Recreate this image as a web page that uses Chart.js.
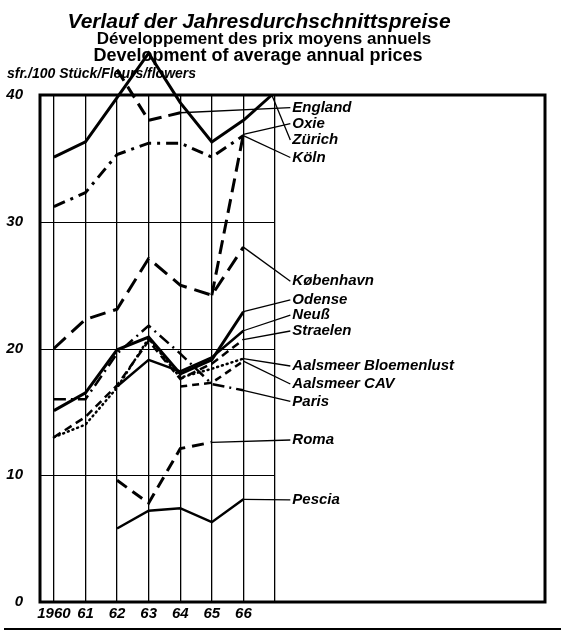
<!DOCTYPE html>
<html lang="de">
<head>
<meta charset="utf-8">
<title>Verlauf der Jahresdurchschnittspreise</title>
<script src="https://cdn.jsdelivr.net/npm/chart.js@4.4.1/dist/chart.umd.min.js"></script>
<style>
    html, body { margin: 0; padding: 0; background: #fff; }
    #chart-wrap { width: 571px; height: 634px; }
</style>
</head>
<body>
<div id="chart-wrap"><canvas id="price-chart" width="571" height="634"></canvas></div>
<script>
// Years on the x axis (the grid has one extra, unlabelled line for 1967)
const years = [1960, 1961, 1962, 1963, 1964, 1965, 1966];
const gridYears = [1960, 1961, 1962, 1963, 1964, 1965, 1966, 1967];
const yTicks = [0, 10, 20, 30, 40];

// Average annual prices, sfr. per 100 flowers
const england     = [null, null, 42.0, 38.0, 38.6, null, null];
const oxie        = [null, null, null, null, null, 24.2, 36.9];
const zuerich     = [35.1, 36.3, 39.8, 43.3, 39.4, 36.3, 38.0];
const koeln       = [31.2, 32.3, 35.3, 36.2, 36.2, 35.1, 36.8];
const kobenhavn   = [20.0, 22.3, 23.1, 27.1, 25.0, 24.2, 28.0];
const odense      = [15.1, 16.5, 19.9, 20.9, 18.0, 19.1, 22.9];
const neuss       = [null, null, 17.0, 19.1, 18.2, 19.3, 21.4];
const straelen    = [13.0, 14.6, 17.1, 20.6, 17.6, 18.8, 20.7];
const bloemenlust = [13.0, 14.0, 16.9, 20.8, 17.7, 18.4, 19.2];
const cav         = [null, null, null, null, 17.0, 17.3, 19.0];
const paris       = [16.0, 16.0, 19.6, 21.8, 19.6, 17.2, 16.7];
const rome        = [null, null, 9.6, 7.8, 12.1, 12.6, null];
const pescia      = [null, null, 5.8, 7.2, 7.4, 6.3, 8.1];

const seriesNames = [
    'England', 'Oxie', 'Zürich', 'Köln', 'København', 'Odense', 'Neuß', 'Straelen',
    'Aalsmeer Bloemenlust', 'Aalsmeer CAV', 'Paris', 'Roma', 'Pescia'
];

class PriceChart {
    constructor() {
        this.canvas = document.getElementById('price-chart');
        this.chart = null;

        // where the name labels sit, in axis units
        this.labelYear = 1967.55;
        this.labelLevels = [39.0, 37.75, 36.45, 35.07, 25.3, 23.83, 22.64, 21.38, 18.62, 17.2, 15.82, 12.78, 8.05];
        // Zürich's line runs on to the top edge before its pointer bends down
        this.leaderVia = { 2: { x: 1966.9, y: 40 } };

        this.textFont = '"Liberation Sans", Arial, sans-serif';
    }

    /**
     * Build the datasets from the series arrays
     */
    buildDatasets() {
        const series = [england, oxie, zuerich, koeln, kobenhavn, odense, neuss,
            straelen, bloemenlust, cav, paris, rome, pescia];
        const styles = [
            { width: 3, dash: [13, 7] },
            { width: 3, dash: [14, 7] },
            { width: 3, dash: [] },
            { width: 3, dash: [12, 6, 3, 6] },
            { width: 3, dash: [16, 8] },
            { width: 3, dash: [] },
            { width: 2.5, dash: [] },
            { width: 2.5, dash: [8, 5] },
            { width: 2.5, dash: [1, 4] },
            { width: 2.5, dash: [7, 5] },
            { width: 2.5, dash: [12, 5, 2, 5] },
            { width: 3, dash: [12, 7] },
            { width: 2.5, dash: [] }
        ];

        return series.map((values, i) => ({
            label: seriesNames[i],
            data: years.map((year, j) => ({ x: year, y: values[j] })),
            borderColor: '#000',
            borderWidth: styles[i].width,
            borderDash: styles[i].dash,
            borderCapStyle: styles[i].dash.length === 2 && styles[i].dash[0] === 1 ? 'round' : 'butt',
            borderJoinStyle: 'miter',
            pointRadius: 0,
            tension: 0,
            fill: false,
            spanGaps: false,
            clip: false
        }));
    }

    /**
     * Frame, short horizontal grid lines and white background
     */
    framePlugin() {
        return {
            id: 'frame',
            beforeDraw: (chart) => {
                const ctx = chart.ctx;
                ctx.save();
                ctx.fillStyle = '#fff';
                ctx.fillRect(0, 0, chart.width, chart.height);
                ctx.restore();
            },
            beforeDatasetsDraw: (chart) => {
                const { ctx, chartArea, scales } = chart;
                const gridEnd = scales.x.getPixelForValue(gridYears[gridYears.length - 1]);

                ctx.save();
                ctx.strokeStyle = '#000';
                ctx.lineWidth = 1.2;
                yTicks.slice(1, -1).forEach(v => {
                    const py = Math.round(scales.y.getPixelForValue(v)) + 0.5;
                    ctx.beginPath();
                    ctx.moveTo(chartArea.left, py);
                    ctx.lineTo(gridEnd, py);
                    ctx.stroke();
                });

                ctx.lineWidth = 3;
                ctx.strokeRect(chartArea.left, chartArea.top,
                    chartArea.right - chartArea.left, chartArea.bottom - chartArea.top);

                // rule under the figure
                ctx.lineWidth = 2;
                ctx.beginPath();
                ctx.moveTo(4, chart.height - 5);
                ctx.lineTo(chart.width - 10, chart.height - 5);
                ctx.stroke();
                ctx.restore();
            }
        };
    }

    /**
     * Pointer lines from each series end to its name
     */
    leaderPlugin() {
        return {
            id: 'leaders',
            afterDatasetsDraw: (chart) => {
                const { ctx, scales } = chart;
                const labelX = scales.x.getPixelForValue(this.labelYear);

                ctx.save();
                ctx.strokeStyle = '#000';
                ctx.fillStyle = '#000';
                ctx.lineWidth = 1.3;
                ctx.font = `italic bold 15px ${this.textFont}`;
                ctx.textAlign = 'left';
                ctx.textBaseline = 'middle';

                chart.data.datasets.forEach((ds, i) => {
                    let last = ds.data.length - 1;
                    while (last >= 0 && ds.data[last].y === null) last--;
                    if (last < 0) return;

                    const startX = scales.x.getPixelForValue(ds.data[last].x);
                    const startY = scales.y.getPixelForValue(ds.data[last].y);
                    const labelY = scales.y.getPixelForValue(this.labelLevels[i]);

                    ctx.beginPath();
                    ctx.moveTo(startX, startY);
                    const via = this.leaderVia[i];
                    if (via) {
                        ctx.lineWidth = 3;
                        ctx.lineTo(scales.x.getPixelForValue(via.x), scales.y.getPixelForValue(via.y));
                        ctx.stroke();
                        ctx.lineWidth = 1.3;
                        ctx.beginPath();
                        ctx.moveTo(scales.x.getPixelForValue(via.x), scales.y.getPixelForValue(via.y));
                    }
                    ctx.lineTo(labelX - 2, labelY);
                    ctx.stroke();

                    ctx.fillText(ds.label, labelX, labelY);
                });
                ctx.restore();
            }
        };
    }

    /**
     * Three-language heading and unit line
     */
    titlePlugin() {
        return {
            id: 'heading',
            afterDraw: (chart) => {
                const ctx = chart.ctx;
                ctx.save();
                ctx.fillStyle = '#000';
                ctx.textBaseline = 'alphabetic';
                ctx.textAlign = 'center';

                ctx.font = `italic bold 21px ${this.textFont}`;
                ctx.fillText('Verlauf der Jahresdurchschnittspreise', 259, 28, 398);
                ctx.font = `bold 17px ${this.textFont}`;
                ctx.fillText('Développement des prix moyens annuels', 264, 44, 340);
                ctx.font = `bold 18px ${this.textFont}`;
                ctx.fillText('Development of average annual prices', 258, 61, 344);

                ctx.textAlign = 'left';
                ctx.font = `italic bold 14px ${this.textFont}`;
                ctx.fillText('sfr./100 Stück/Fleurs/flowers', 7, 78, 227);
                ctx.restore();
            }
        };
    }

    /**
     * Create the chart
     */
    initialize() {
        const tickFont = { family: this.textFont, size: 15, weight: 'bold', style: 'italic' };

        this.chart = new Chart(this.canvas.getContext('2d'), {
            type: 'line',
            data: { datasets: this.buildDatasets() },
            options: {
                responsive: false,
                devicePixelRatio: 1,
                animation: false,
                layout: { padding: { top: 95, right: 26, left: 0, bottom: 0 } },
                plugins: {
                    legend: { display: false },
                    tooltip: { enabled: false }
                },
                scales: {
                    x: {
                        type: 'linear',
                        min: 1959.56,
                        max: 1975.55,
                        afterBuildTicks: (scale) => {
                            scale.ticks = gridYears.map(v => ({ value: v }));
                        },
                        afterFit: (scale) => { scale.height = 32; },
                        ticks: {
                            font: tickFont,
                            color: '#000',
                            padding: 3,
                            maxRotation: 0,
                            autoSkip: false,
                            callback: (v) => {
                                if (v === 1960) return '1960';
                                if (v > 1966) return '';
                                return String(v).slice(2);
                            }
                        },
                        grid: { color: '#000', lineWidth: 1.3, drawTicks: false },
                        border: { display: false }
                    },
                    y: {
                        min: 0,
                        max: 40,
                        afterBuildTicks: (scale) => {
                            scale.ticks = yTicks.map(v => ({ value: v }));
                        },
                        afterFit: (scale) => { scale.width = 40; },
                        ticks: { font: tickFont, color: '#000', padding: 9 },
                        grid: { display: false },
                        border: { display: false }
                    }
                }
            },
            plugins: [this.framePlugin(), this.leaderPlugin(), this.titlePlugin()]
        });
    }
}

const priceChart = new PriceChart();
priceChart.initialize();
</script>
</body>
</html>
